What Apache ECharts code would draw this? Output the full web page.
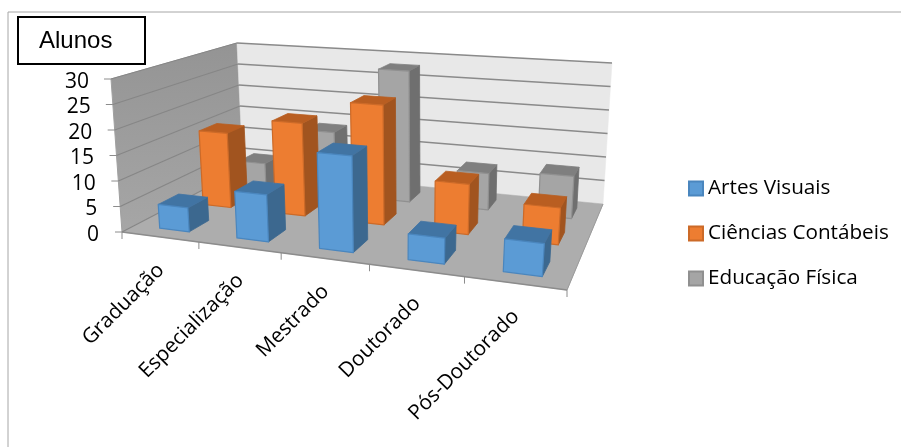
<!DOCTYPE html>
<html><head><meta charset="utf-8">
<style>html,body{margin:0;padding:0;background:#fff}#c{width:901px;height:447px}</style>
<script src="https://cdn.jsdelivr.net/npm/echarts@6/dist/echarts.min.js"></script>
</head><body><div id="c"></div>
<script>
const categories = ['Graduação','Especialização','Mestrado','Doutorado','Pós-Doutorado'];
const artesVisuais = [4.7, 9, 18, 4.7, 5.8];
const cienciasContabeis = [15.6, 19, 24, 9.8, 7];
const educacaoFisica = [5.2, 13.5, 28, 7.6, 8.6];
const yTicks = [0,5,10,15,20,25,30];

const FONT = '"Open Sans"';
const bottom = [[122,232],[567,290],[603,204],[243,169]]; // FL, FR, BR, BL
const top3d  = [[111,79],[580,114],[612,63],[237,43]];

function homography(q){
  const [p0,p1,p2,p3]=q;
  const dx1=p1[0]-p2[0],dx2=p3[0]-p2[0],sx=p0[0]-p1[0]+p2[0]-p3[0];
  const dy1=p1[1]-p2[1],dy2=p3[1]-p2[1],sy=p0[1]-p1[1]+p2[1]-p3[1];
  const den=dx1*dy2-dx2*dy1;
  const g=(sx*dy2-dx2*sy)/den,h=(dx1*sy-sx*dy1)/den;
  const a=p1[0]-p0[0]+g*p1[0],b=p3[0]-p0[0]+h*p3[0];
  const d=p1[1]-p0[1]+g*p1[1],e=p3[1]-p0[1]+h*p3[1];
  return (u,v)=>{const w=1+g*u+h*v;return [(p0[0]+a*u+b*v)/w,(p0[1]+d*u+e*v)/w];};
}
const hb=homography(bottom),ht=homography(top3d);
function P(u,d,h){const a=hb(u,d),b=ht(u,d);return [a[0]+(b[0]-a[0])*h,a[1]+(b[1]-a[1])*h];}

const barU=0.39, uShift=0.005, slotD=[0.165,0.5,0.83], barD=0.15;
function poly(points,fill,stroke,lw){return {type:'polygon',shape:{points},silent:true,style:{fill,stroke:stroke||fill,lineWidth:lw===undefined?1:lw,lineJoin:'round'}};}
function line(a,b,stroke,lw){return {type:'line',shape:{x1:a[0],y1:a[1],x2:b[0],y2:b[1]},silent:true,style:{stroke,lineWidth:lw||1}};}
function norm(api,params,x,v){
  const r=params.coordSys, p=api.coord([x,v]);
  return {u:(p[0]-r.x)/r.width,h:(r.y+r.height-p[1])/r.height};
}
function barRenderer(slot,c){
  return function(params,api){
    const n=norm(api,params,api.value(0),api.value(1));
    const cw=api.size([1,0])[0]/params.coordSys.width;
    const uc=n.u+uShift;
    const u0=uc-cw*barU/2,u1=uc+cw*barU/2,d0=slotD[slot]-barD/2,d1=slotD[slot]+barD/2,h=n.h;
    return {type:'group',children:[
      poly([P(u1,d0,0),P(u1,d1,0),P(u1,d1,h),P(u1,d0,h)],c.side,c.side,0.8),
      poly([P(u0,d0,h),P(u1,d0,h),P(u1,d1,h),P(u0,d1,h)],c.top,c.top,0.8),
      poly([P(u0,d0,0),P(u1,d0,0),P(u1,d0,h),P(u0,d0,h)],c.front,c.edge,1.2)
    ]};
  };
}
function barSeries(name,data,slot,c,z){
  return {type:'custom',name,z,clip:false,silent:true,coordinateSystem:'cartesian2d',
    itemStyle:{color:c.front,borderColor:c.edge,borderWidth:1},
    encode:{x:0,y:1},data:data.map((v,i)=>[i,v]),renderItem:barRenderer(slot,c)};
}
const blue={front:'#5B9BD5',side:'#3C688F',top:'#4174A3',edge:'#4A86BE'};
const orange={front:'#ED7D31',side:'#A1541F',top:'#B95E21',edge:'#CC6A28'};
const gray={front:'#A5A5A5',side:'#6F6F6F',top:'#7F7F7F',edge:'#909090'};
const wallFill={type:'linear',x:0,y:0,x2:0,y2:1,colorStops:[{offset:0,color:'#949494'},{offset:1,color:'#A6A6A6'}]};

const option={
  animation:false,backgroundColor:'#fff',
  title:{text:'Alunos',left:18,top:17,padding:[12,33,11,21],borderColor:'#000',borderWidth:2,
    textStyle:{fontFamily:'"Liberation Sans"',fontSize:24,fontWeight:'normal',color:'#000'}},
  legend:{orient:'vertical',left:688,top:178,padding:0,itemWidth:14,itemHeight:14,itemGap:24,icon:'rect',selectedMode:false,
    data:['Artes Visuais','Ciências Contábeis','Educação Física'],
    textStyle:{fontFamily:FONT,fontSize:20.7,color:'#000'}},
  grid:{left:122,top:79,width:445,height:153,containLabel:false},
  xAxis:{type:'category',data:categories,show:false},
  yAxis:{type:'value',min:0,max:30,interval:5,
    axisLine:{show:false},axisTick:{show:false},splitLine:{show:false},
    axisLabel:{margin:23,color:'#000',fontFamily:FONT,fontSize:21,
      formatter:v=>`{t${v}|${v}}`,
      rich:Object.fromEntries(yTicks.map(v=>['t'+v,{fontFamily:FONT,fontSize:21,color:'#000',padding:[6,v/3,0,0]}]))}},
  graphic:[{type:'rect',shape:{x:8,y:12,width:1000,height:1000},style:{fill:'none',stroke:'#A6A6A6',lineWidth:1},silent:true,z:-1}],
  series:[
    {type:'custom',name:'paredes',z:1,clip:false,silent:true,data:[[0,0]],encode:{x:0,y:1},
      renderItem(params,api){
        return {type:'group',children:[
          poly([P(0,0,0),P(0,0,1),P(0,1,1),P(0,1,0)],wallFill,'#A0A0A0',1),
          poly([P(0,1,0),P(0,1,1),P(1,1,1),P(1,1,0)],'#E8E8E8','#E8E8E8',0.5),
          poly([P(0,0,0),P(1,0,0),P(1,1,0),P(0,1,0)],'#ADADAD','#ADADAD',0.5),
          line(P(0,0,0),P(1,0,0),'#8C8C8C',1.5),
          line(P(1,0,0),P(1,1,0),'#9A9A9A',1)
        ]};
      }},
    {type:'custom',name:'grade',z:2,clip:false,silent:true,data:yTicks.map(v=>[0,v]),encode:{x:0,y:1},
      renderItem(params,api){
        const h=norm(api,params,0,api.value(1)).h;
        const a=P(0,0,h),b=P(0,1,h),c=P(1,1,h),ch=[
          line([a[0]-7,a[1]],a,'#8C8C8C',1),
          line(a,b,'#868686',1.2)];
        if(h>0) ch.push(line(b,c,'#8A8A8A',1.6));
        return {type:'group',children:ch};
      }},
    {type:'custom',name:'marcas',z:2,clip:false,silent:true,data:[0,1,2,3,4,5].map(i=>[i,0]),encode:{x:0,y:1},
      renderItem(params,api){
        const r=params.coordSys,cw=api.size([1,0])[0];
        const p=P(api.value(0)*cw/r.width,0,0);
        return line(p,[p[0],p[1]+7],'#8C8C8C',1);
      }},
    {type:'custom',name:'categorias',z:6,clip:false,silent:true,data:categories.map((c,i)=>[i,0]),encode:{x:0,y:1},
      renderItem(params,api){
        const n=norm(api,params,api.value(0),0);
        const p=P(n.u,0,0);
        return {type:'text',x:p[0]+1,y:p[1]+30,rotation:Math.PI/4,silent:true,
          style:{text:categories[api.value(0)],fontFamily:FONT,fontSize:20.7,fill:'#000',align:'right',verticalAlign:'middle'}};
      }},
    barSeries('Artes Visuais',artesVisuais,0,blue,5),
    barSeries('Ciências Contábeis',cienciasContabeis,1,orange,4),
    barSeries('Educação Física',educacaoFisica,2,gray,3)
  ]
};
echarts.init(document.getElementById('c'),null,{renderer:'canvas'}).setOption(option);
</script></body></html>
